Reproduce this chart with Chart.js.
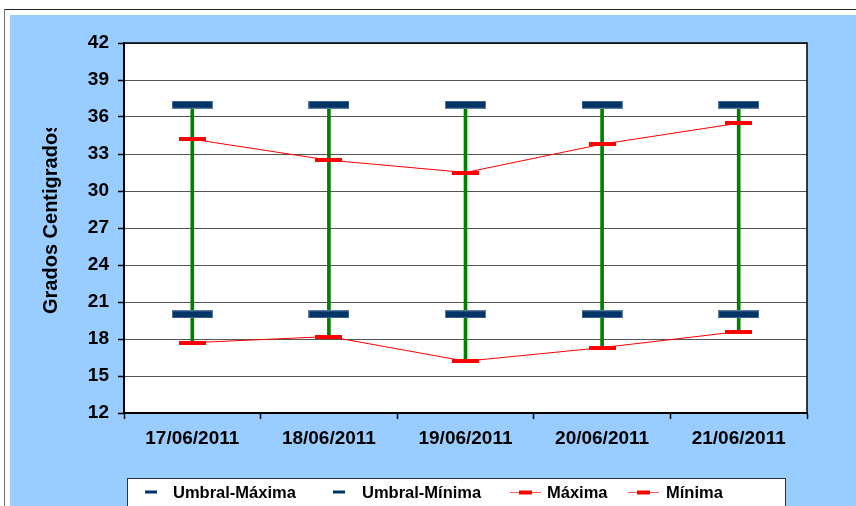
<!DOCTYPE html>
<html>
<head>
<meta charset="utf-8">
<script src="https://cdn.jsdelivr.net/npm/chart.js@4/dist/chart.umd.min.js"></script>
<style>
html,body{margin:0;padding:0;background:#fff;}
canvas{display:block;}
</style>
</head>
<body>
<canvas id="c" width="856" height="506"></canvas>
<script>
const categories = ['17/06/2011','18/06/2011','19/06/2011','20/06/2011','21/06/2011'];
const umbralMaxima = [37, 37, 37, 37, 37];
const umbralMinima = [20, 20, 20, 20, 20];
const maxima = [34.2, 32.5, 31.5, 33.8, 35.5];
const minima = [17.7, 18.2, 16.2, 17.3, 18.6];
const yTicks = [12, 15, 18, 21, 24, 27, 30, 33, 36, 39, 42];
const yTitle = 'Grados Centigrados';

const FONT = "'Liberation Sans', Arial, sans-serif";

// high-low range built from the series
const highLow = categories.map((_, i) => {
  const vals = [umbralMaxima[i], umbralMinima[i], maxima[i], minima[i]];
  return [Math.min(...vals), Math.max(...vals)];
});

function makeRect(w, h, fill, edge) {
  const cv = document.createElement('canvas');
  cv.width = w; cv.height = h;
  const g = cv.getContext('2d');
  g.fillStyle = edge || fill;
  g.fillRect(0, 0, w, h);
  g.fillStyle = fill;
  if (edge) g.fillRect(1, 1, w - 2, h - 2); else g.fillRect(0, 0, w, h);
  return cv;
}
const navyMark = makeRect(41, 8, '#003366', '#5a7a9c');
const redMark = makeRect(27, 4, '#ff0000');

const bgPlugin = {
  id: 'bg',
  beforeDraw(chart) {
    const ctx = chart.ctx;
    const W = chart.width, H = chart.height;
    ctx.save();
    ctx.fillStyle = '#ffffff';
    ctx.fillRect(0, 0, W, H);
    ctx.fillStyle = '#99ccff';
    ctx.fillRect(10, 15, W - 10, H - 15);
    ctx.strokeStyle = '#222';
    ctx.lineWidth = 1;
    ctx.beginPath();
    ctx.moveTo(4, 9.5); ctx.lineTo(W, 9.5);
    ctx.stroke();
    ctx.strokeStyle = '#777';
    ctx.beginPath();
    ctx.moveTo(4.5, 9); ctx.lineTo(4.5, H);
    ctx.stroke();
    const a = chart.chartArea;
    ctx.fillStyle = '#ffffff';
    ctx.fillRect(a.left, a.top, a.right - a.left, a.bottom - a.top);
    ctx.restore();
  },
  afterDraw(chart) {
    const ctx = chart.ctx;
    const a = chart.chartArea;
    ctx.save();
    // top/right frame of plot area
    ctx.strokeStyle = '#000';
    ctx.lineWidth = 1.5;
    ctx.beginPath();
    ctx.moveTo(a.left, a.top); ctx.lineTo(a.right, a.top); ctx.lineTo(a.right, a.bottom);
    ctx.stroke();

    // y-axis title (clipped at top, as in reference)
    ctx.save();
    ctx.beginPath();
    ctx.rect(0, 128, 120, 300);
    ctx.clip();
    ctx.translate(57, 314);
    ctx.rotate(-Math.PI / 2);
    ctx.fillStyle = '#000';
    ctx.font = 'bold 20px ' + FONT;
    ctx.textBaseline = 'alphabetic';
    ctx.textAlign = 'left';
    ctx.fillText(yTitle, 0, 0);
    ctx.restore();

    // legend
    ctx.fillStyle = '#ffffff';
    ctx.fillRect(127, 478, 658, 40);
    ctx.strokeStyle = '#333';
    ctx.lineWidth = 1;
    ctx.strokeRect(127.5, 478.5, 658, 40);
    const ds = chart.data.datasets.filter(d => d.type === 'line');
    const xs = [[145, 173], [333, 362], [510, 547], [628, 666]];
    ctx.font = 'bold 16.5px ' + FONT;
    ctx.textBaseline = 'alphabetic';
    ctx.textAlign = 'left';
    ds.forEach((d, i) => {
      const [sx, tx] = xs[i];
      const cy = 492;
      if (d.showLine === false) {
        ctx.fillStyle = '#003366';
        ctx.fillRect(sx, cy - 1.5, 12, 3);
      } else {
        ctx.strokeStyle = '#ff6060';
        ctx.lineWidth = 1;
        ctx.beginPath();
        ctx.moveTo(sx, cy + 0.5); ctx.lineTo(sx + 31, cy + 0.5);
        ctx.stroke();
        ctx.fillStyle = '#ff0000';
        ctx.fillRect(sx + 9, cy - 1.5, 13, 4);
      }
      ctx.fillStyle = '#000';
      ctx.fillText(d.label, tx, 498);
    });
    ctx.restore();
  }
};

new Chart(document.getElementById('c'), {
  type: 'bar',
  data: {
    labels: categories,
    datasets: [
      { type: 'bar', label: 'range', data: highLow, backgroundColor: '#008000', borderWidth: 0, barThickness: 3, order: 10 },
      { type: 'line', label: 'Umbral-Máxima', data: umbralMaxima, showLine: false, pointStyle: navyMark, pointRadius: 10, order: 1 },
      { type: 'line', label: 'Umbral-Mínima', data: umbralMinima, showLine: false, pointStyle: navyMark, pointRadius: 10, order: 1 },
      { type: 'line', label: 'Máxima', data: maxima, borderColor: '#ff0000', borderWidth: 1, tension: 0, pointStyle: redMark, pointRadius: 10, order: 2 },
      { type: 'line', label: 'Mínima', data: minima, borderColor: '#ff0000', borderWidth: 1, tension: 0, pointStyle: redMark, pointRadius: 10, order: 2 }
    ]
  },
  options: {
    responsive: false,
    animation: false,
    events: [],
    layout: { padding: { top: 43, right: 49, left: 0, bottom: 0 } },
    plugins: { legend: { display: false }, tooltip: { enabled: false }, title: { display: false } },
    scales: {
      x: {
        type: 'category',
        offset: true,
        grid: { display: true, drawOnChartArea: false, drawTicks: true, tickLength: 6, tickColor: '#000', tickWidth: 1.5, offset: true },
        border: { display: true, color: '#000', width: 2 },
        ticks: { color: '#000', font: { family: FONT, size: 19, weight: 'bold' }, padding: 8, maxRotation: 0 },
        afterFit(scale) { scale.height = 93; }
      },
      y: {
        min: 12, max: 42,
        afterBuildTicks(scale) { scale.ticks = yTicks.map(v => ({ value: v })); },
        grid: { color: '#555', lineWidth: 1, tickLength: 6, tickColor: '#000', tickWidth: 1.5 },
        border: { display: true, color: '#000', width: 2 },
        ticks: { color: '#000', font: { family: FONT, size: 19, weight: 'bold' }, padding: 9 },
        afterFit(scale) { scale.width = 124; }
      }
    }
  },
  plugins: [bgPlugin]
});
</script>
</body>
</html>
